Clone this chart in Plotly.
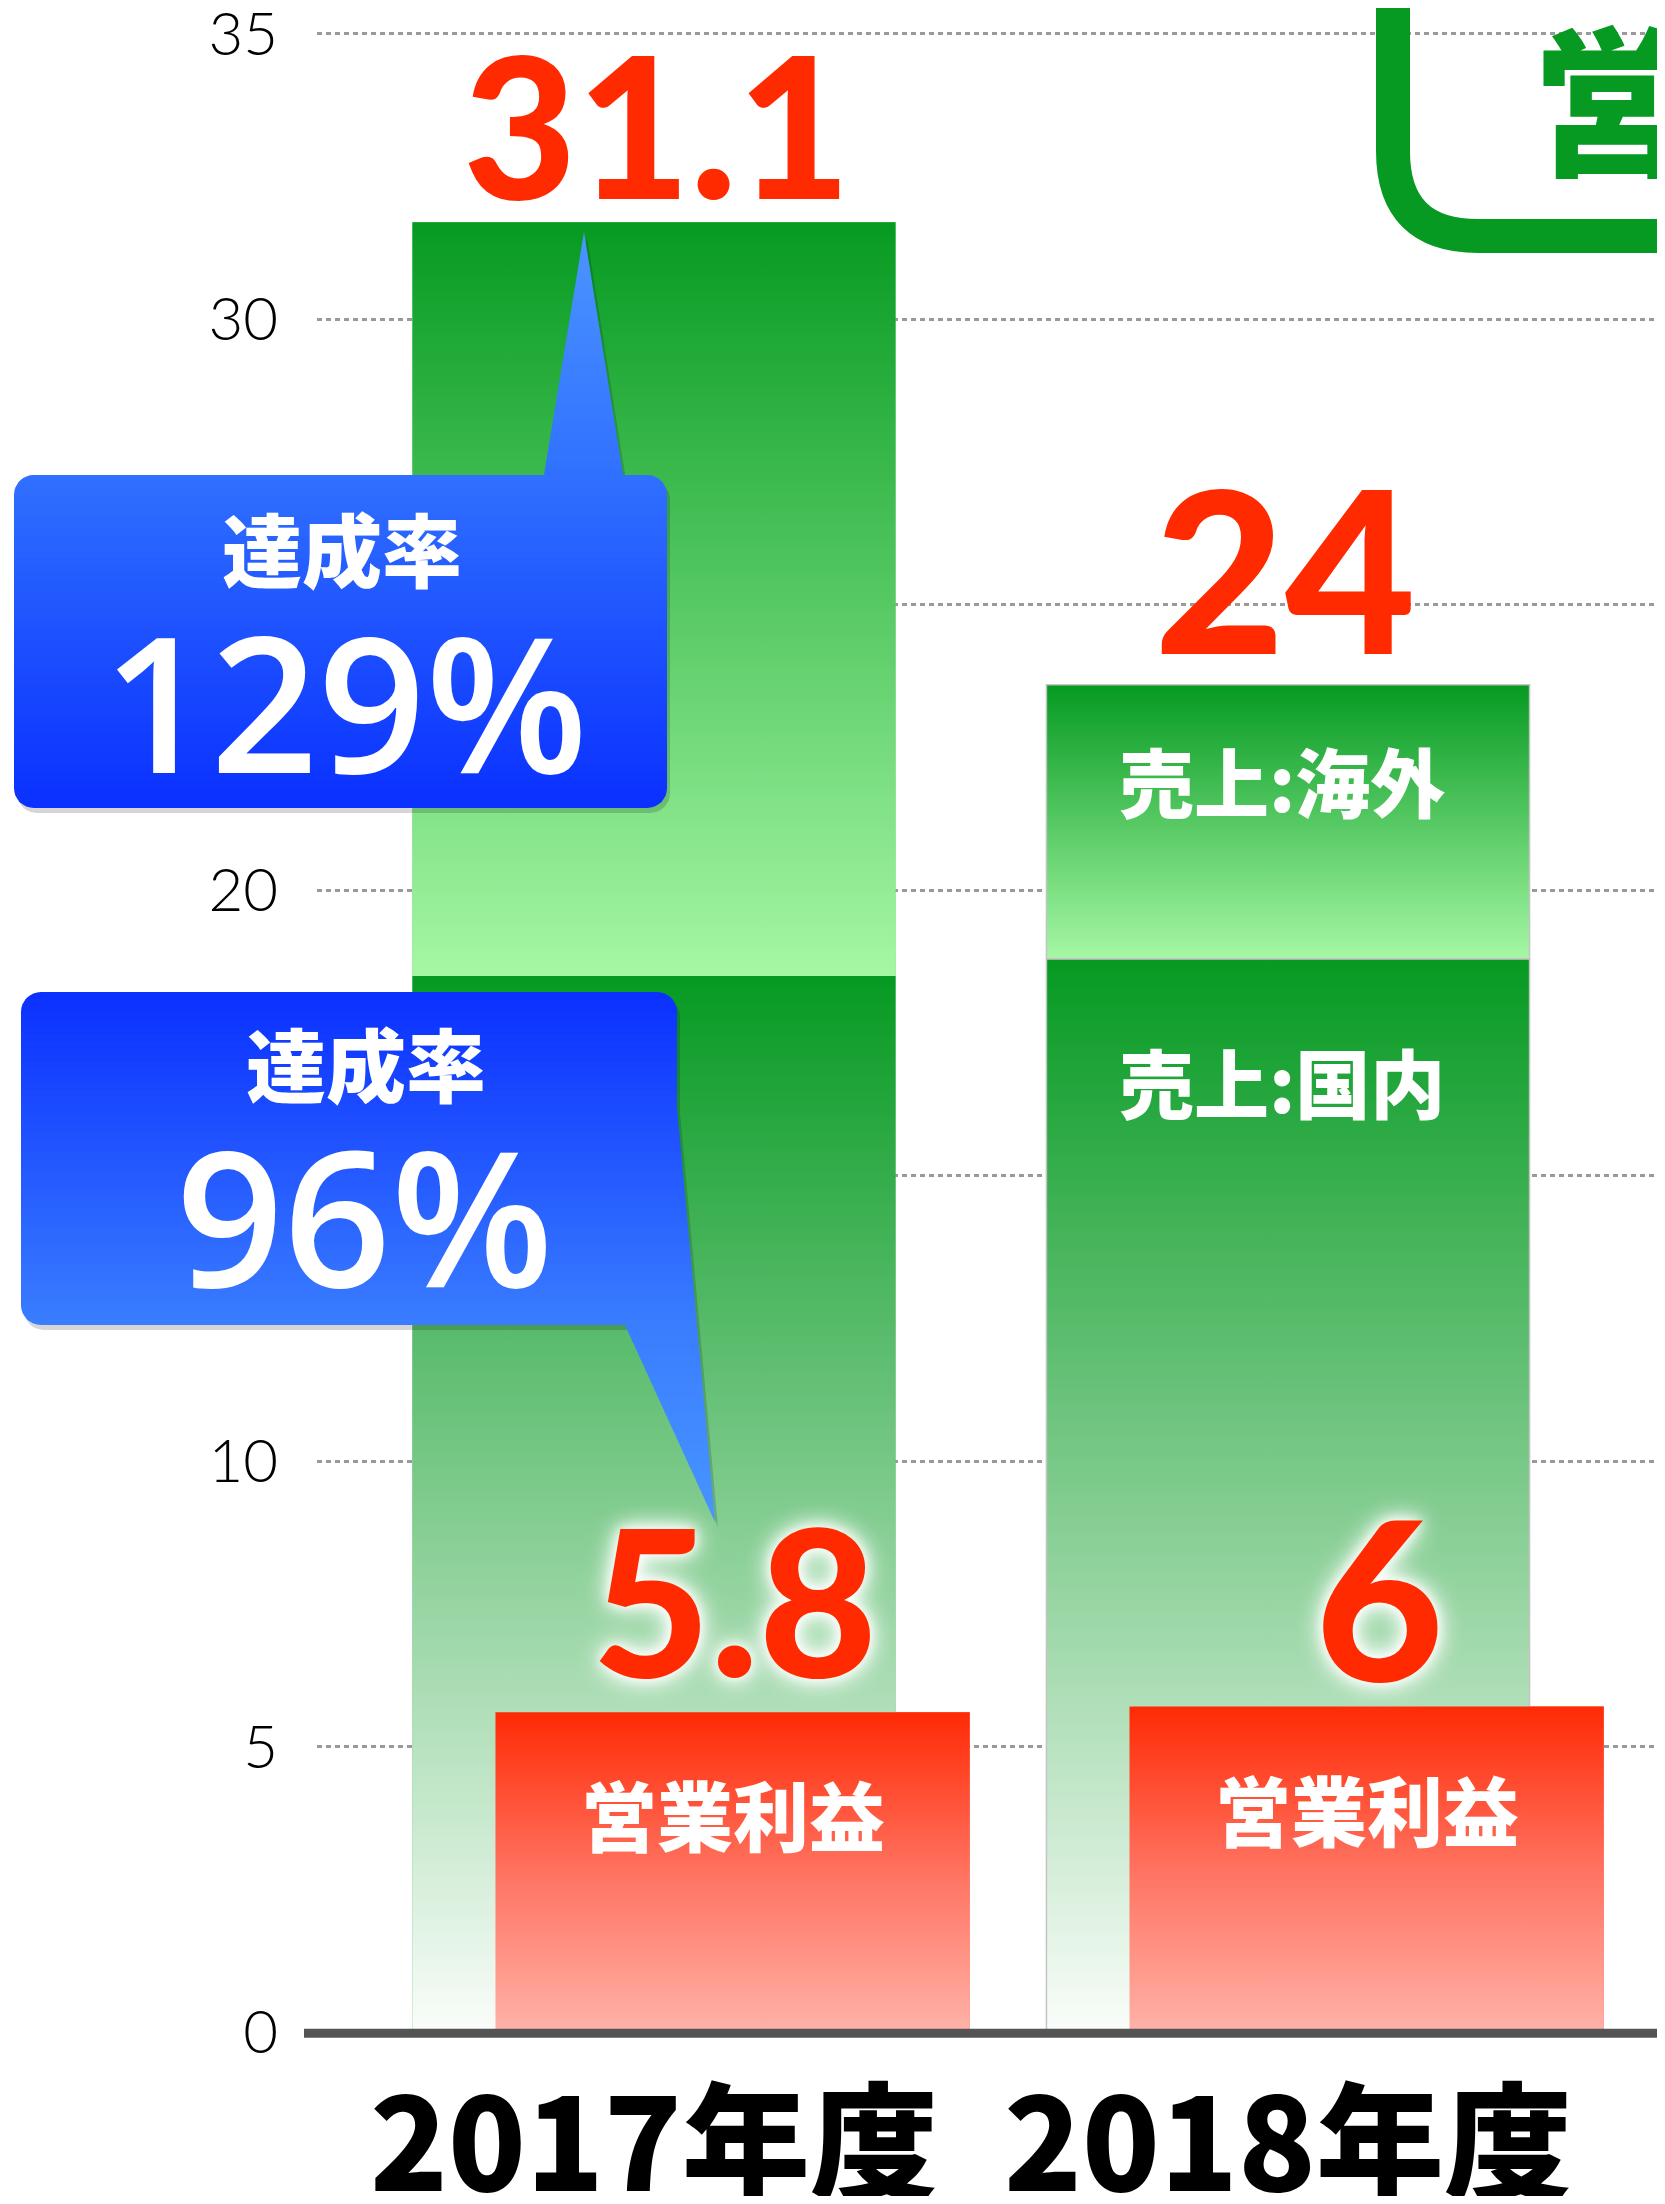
import math
import plotly.graph_objects as go

# ---------------- data ----------------
years = ["2017年度", "2018年度"]
sales_domestic = [18.5, 18.8]
sales_overseas = [13.2, 4.8]
operating_profit = [5.6, 5.7]
total_labels = ["31.1", "24"]
profit_labels = ["5.8", "6"]
achievement_labels = ["129%", "96%"]
achievement_title = "達成率"
segment_labels = ["売上:国内", "売上:海外", "営業利益"]
y_ticks = [0, 5, 10, 15, 20, 25, 30, 35]
y_tick_text = ["0", "5", "10", "", "20", "", "30", "35"]  # 15 / 25 sit under the callouts
title_text = "営業利益"

# ---------------- geometry / styles ----------------
# The page body keeps its default 8px margin, so the figure is sized to fit inside it.
OFF = 8
W, H = 1665 - 2 * OFF, 2204 - 2 * OFF
PLOT_L, PLOT_R, PLOT_T, PLOT_B = 317, 1657, 20, 2032      # page pixels
ML, MT = PLOT_L - OFF, PLOT_T - OFF
MR = W - (PLOT_R - OFF)
MB = H - (PLOT_B - OFF)
PW = PLOT_R - PLOT_L
PH = PLOT_B - PLOT_T
Y_RANGE = [0, 35.245]
X_RANGE = [-0.5315, 1.582]
GREEN_W = 0.762
RED_W = 0.748
RED_OFF = 0.124

JP = "Noto Sans CJK JP"
NUM = "Lato"
PCT = "Open Sans"
RED = "#ff2a00"
GREEN_DARK = "#079a22"

xpos = list(range(len(years)))


def to_paper(x, y):
    return (x - PLOT_L) / PW, (PLOT_B - y) / PH


def path_str(poly):
    pts = [to_paper(x, y) for x, y in poly]
    s = "M %.5f,%.5f " % pts[0]
    s += " ".join("L %.5f,%.5f" % p for p in pts[1:])
    return s + " Z"


def arc(cx, cy, r, a0, a1, n=8):
    return [(cx + r * math.cos(math.radians(a0 + (a1 - a0) * k / n)),
             cy + r * math.sin(math.radians(a0 + (a1 - a0) * k / n))) for k in range(n + 1)]


def clip_half(poly, yc, keep_ge):
    out = []
    n = len(poly)
    for i in range(n):
        cur, prev = poly[i], poly[i - 1]
        cin = cur[1] >= yc if keep_ge else cur[1] <= yc
        pin = prev[1] >= yc if keep_ge else prev[1] <= yc

        def inter(a, b):
            t = (yc - a[1]) / (b[1] - a[1])
            return (a[0] + t * (b[0] - a[0]), yc)
        if cin:
            if not pin:
                out.append(inter(prev, cur))
            out.append(cur)
        elif pin:
            out.append(inter(prev, cur))
    return out


def hex2rgb(h):
    h = h.lstrip("#")
    return [int(h[i:i + 2], 16) for i in (0, 2, 4)]


def color_at(stops, y):
    if y <= stops[0][0]:
        return stops[0][1]
    for (y0, c0), (y1, c1) in zip(stops[:-1], stops[1:]):
        if y0 <= y <= y1:
            t = (y - y0) / (y1 - y0)
            a, b = hex2rgb(c0), hex2rgb(c1)
            return "rgb(%d,%d,%d)" % tuple(round(a[i] + t * (b[i] - a[i])) for i in range(3))
    return stops[-1][1]


def gradient_shapes(poly, stops, step=7):
    ys = [p[1] for p in poly]
    y0, y1 = min(ys), max(ys)
    shapes = []
    shadow = [(x + 3, y + 5) for x, y in poly]
    shapes.append(dict(type="path", xref="paper", yref="paper", path=path_str(shadow),
                       fillcolor="rgba(0,0,0,0.16)", line=dict(width=0), layer="above"))
    n = max(1, int(math.ceil((y1 - y0) / step)))
    for k in range(n):
        ya = y0 + (y1 - y0) * k / n
        yb = min(y1, y0 + (y1 - y0) * (k + 1) / n + 1.2)
        band = clip_half(clip_half(poly, ya, True), yb, False)
        if len(band) < 3:
            continue
        shapes.append(dict(type="path", xref="paper", yref="paper", path=path_str(band),
                           fillcolor=color_at(stops, (ya + yb) / 2), line=dict(width=0),
                           layer="above"))
    return shapes


# callout 1 (points up to the 2017 total)
r = 20
x0, y0, x1, y1 = 14, 475, 667, 808
call1 = (arc(x0 + r, y0 + r, r, 180, 270) + [(544, y0), (584, 232), (623, y0)] +
         arc(x1 - r, y0 + r, r, 270, 360) + arc(x1 - r, y1 - r, r, 0, 90) +
         arc(x0 + r, y1 - r, r, 90, 180))
call1_stops = [(232, "#4c95ff"), (475, "#3070ff"), (808, "#0a30ff")]

# callout 2 (points down to the 2017 profit)
x0, y0, x1, y1 = 21, 992, 677, 1325
call2 = (arc(x0 + r, y0 + r, r, 180, 270) + arc(x1 - r, y0 + r, r, 270, 360) +
         [(x1, 1108), (715, 1522), (625, y1)] + arc(x0 + r, y1 - r, r, 90, 180))
call2_stops = [(992, "#0a30ff"), (1325, "#3a7dff"), (1522, "#4695ff")]

shapes = []
shapes += gradient_shapes(call1, call1_stops)
shapes += gradient_shapes(call2, call2_stops)

# axis base line
shapes.append(dict(type="line", xref="paper", yref="paper",
                   x0=(304 - PLOT_L) / PW, x1=1.02, y0=-0.0006, y1=-0.0006,
                   line=dict(color="#545454", width=9), layer="above"))

# title frame at top right
R = 85
bx, by = 1393, 236
p = "M %.5f,%.5f L %.5f,%.5f " % (*to_paper(bx, -80), *to_paper(bx, by - R))
qx, qy = to_paper(bx, by)
ex, ey = to_paper(bx + R, by)
fx, fy = to_paper(1760, by)
p += "Q %.5f,%.5f %.5f,%.5f L %.5f,%.5f" % (qx, qy, ex, ey, fx, fy)
shapes.append(dict(type="path", xref="paper", yref="paper", path=p,
                   line=dict(color=GREEN_DARK, width=34), fillcolor="rgba(0,0,0,0)",
                   layer="above"))

fig = go.Figure()

# ---------------- bars ----------------
fig.add_trace(go.Bar(x=xpos, y=sales_domestic, width=GREEN_W, name=segment_labels[0],
                     marker=dict(color="#5cbf6e", line=dict(width=0))))
fig.add_trace(go.Bar(x=xpos, y=sales_overseas, base=sales_domestic, width=GREEN_W,
                     name=segment_labels[1], marker=dict(color="#5cd06a", line=dict(width=0))))
fig.add_trace(go.Bar(x=xpos, y=operating_profit, width=RED_W, offset=RED_OFF - RED_W / 2,
                     name=segment_labels[2], marker=dict(color="#ff6a55", line=dict(width=0))))


def grad_rect(xc, w, b, t, scale, outline=None):
    xa, xb = xc - w / 2, xc + w / 2
    fig.add_trace(go.Scatter(x=[xa, xb, xb, xa, xa], y=[b, b, t, t, b],
                             mode="lines" if outline else "none",
                             line=dict(color=outline or "rgba(0,0,0,0)", width=1.5),
                             fill="toself", hoverinfo="skip", showlegend=False,
                             fillgradient=dict(type="vertical", colorscale=scale)))


for i in xpos:
    dom, ovs = sales_domestic[i], sales_overseas[i]
    edge = "#c4c4c4" if i == 1 else None
    grad_rect(i, GREEN_W, 0, dom, [[0, "#fafdfa"], [1, "#069a22"]], edge)
    grad_rect(i, GREEN_W, dom, dom + ovs, [[0, "#a6f7a4"], [1, "#069a22"]], edge)
for i in xpos:
    grad_rect(i + RED_OFF, RED_W, 0, operating_profit[i],
              [[0, "#ffb2a8"], [0.5, "#ff7260"], [1, "#ff2a05"]])

# ---------------- annotations ----------------
ann = []
total_sizes = [196, 226]
total_shift = [99, 118]
for i in xpos:
    top = sales_domestic[i] + sales_overseas[i]
    ann.append(dict(x=i, y=top, xref="x", yref="y", text=total_labels[i], showarrow=False,
                    yanchor="middle", yshift=total_shift[i], xshift=[3, -3][i],
                    font=dict(family=NUM, size=total_sizes[i], color=RED, weight=900)))

profit_sizes = [204, 222]
profit_shift = [114, 112]
profit_xshift = [2, 13]
glow = "0 0 12px #ffffff, 0 0 22px #ffffff, 0 0 30px rgba(255,255,255,0.8)"
for i in xpos:
    ann.append(dict(x=i + RED_OFF, y=operating_profit[i], xref="x", yref="y",
                    text=profit_labels[i], showarrow=False, yanchor="middle",
                    yshift=profit_shift[i], xshift=profit_xshift[i],
                    font=dict(family=NUM, size=profit_sizes[i], color=RED, weight=900,
                              shadow=glow)))
    ann.append(dict(x=i + RED_OFF, y=operating_profit[i], xref="x", yref="y",
                    text=segment_labels[2], showarrow=False, yanchor="middle", yshift=-101,
                    font=dict(family=JP, size=76, color="white", weight=900)))

# segment labels on the 2018 bar
j = 1
ann.append(dict(x=j, y=sales_domestic[j] + sales_overseas[j], xref="x", yref="y",
                text=segment_labels[1], showarrow=False, yanchor="middle", yshift=-95, xshift=-6,
                font=dict(family=JP, size=75, color="white", weight=900)))
ann.append(dict(x=j, y=sales_domestic[j], xref="x", yref="y",
                text=segment_labels[0], showarrow=False, yanchor="middle", yshift=-122, xshift=-6,
                font=dict(family=JP, size=75, color="white", weight=900)))

# callout texts
for (cx, cy), txt, size, fam, wt in [
        ((342, 546), achievement_title, 80, JP, 900),
        ((345, 700), achievement_labels[0], 188, PCT, 600),
        ((366, 1061), achievement_title, 80, JP, 900),
        ((364, 1214), achievement_labels[1], 188, PCT, 600)]:
    px_, py_ = to_paper(cx, cy)
    ann.append(dict(x=px_, y=py_, xref="paper", yref="paper", text=txt, showarrow=False,
                    xanchor="center", yanchor="middle",
                    font=dict(family=fam, size=size, color="white", weight=wt)))

# title (cut off at the right edge)
tx, ty = to_paper(1530, 93)
ann.append(dict(x=tx, y=ty, xref="paper", yref="paper", text=title_text, showarrow=False,
                xanchor="left", yanchor="middle",
                font=dict(family=JP, size=160, color=GREEN_DARK, weight=900)))

fig.update_layout(
    width=W, height=H,
    margin=dict(l=ML, r=MR, t=MT, b=MB, pad=0, autoexpand=False),
    paper_bgcolor="white", plot_bgcolor="white",
    barmode="overlay", showlegend=False,
    xaxis=dict(range=X_RANGE, tickvals=xpos, ticktext=years, showgrid=False,
               zeroline=False, showline=False, ticks="", ticklabelstandoff=30,
               ticklabeloverflow="allow",
               tickfont=dict(family=JP, size=128, color="black", weight=900),
               fixedrange=True),
    yaxis=dict(range=Y_RANGE, tickvals=y_ticks, ticktext=y_tick_text, showgrid=True,
               gridcolor="#9a9a9a", gridwidth=2.5, griddash="5px,4px", zeroline=False,
               showline=False, ticks="", ticklabelstandoff=38, ticklabeloverflow="allow",
               tickfont=dict(family=NUM, size=60, color="black", weight=300),
               fixedrange=True),
    shapes=shapes,
    annotations=ann,
)

fig.write_html("out.html")
